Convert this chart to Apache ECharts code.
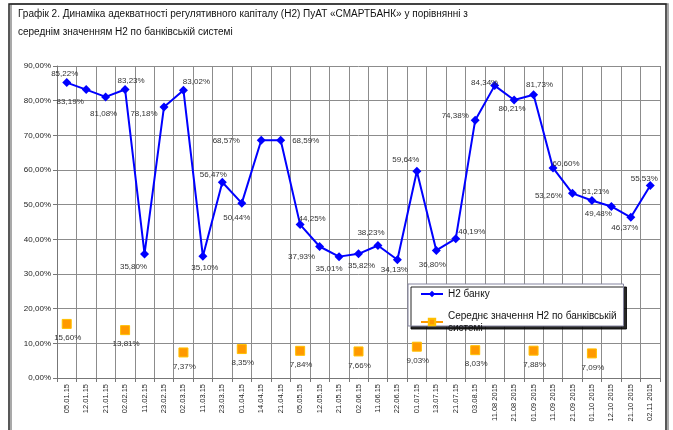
<!DOCTYPE html>
<html>
<head>
<meta charset="utf-8">
<script src="https://cdn.jsdelivr.net/npm/echarts@6/dist/echarts.min.js"></script>
<style>
  html, body { margin: 0; padding: 0; background: #fff; }
  #chart { width: 673px; height: 430px; }
</style>
</head>
<body>
<div id="chart"></div>
<script>
// дати спостережень
const categories = [
  "05.01.15", "12.01.15", "21.01.15", "02.02.15", "11.02.15", "23.02.15",
  "02.03.15", "11.03.15", "23.03.15", "01.04.15", "14.04.15", "21.04.15",
  "05.05.15", "12.05.15", "21.05.15", "02.06.15", "11.06.15", "22.06.15",
  "01.07.15", "13.07.15", "21.07.15", "03.08.15", "11.08 2015", "21.08 2015",
  "01.09 2015", "11.09 2015", "21.09 2015", "01.10 2015", "12.10 2015",
  "21.10 2015", "02.11 2015",
];
// Н2 банку, %
const bankH2 = [
  85.22, 83.19, 81.08, 83.23, 35.80, 78.18, 83.02, 35.10, 56.47, 50.44,
  68.57, 68.59, 44.25, 37.93, 35.01, 35.82, 38.23, 34.13, 59.64, 36.80,
  40.19, 74.38, 84.34, 80.21, 81.73, 60.60, 53.26, 51.21, 49.48, 46.37, 55.53,
];
// середнє по системі (на початок місяця), %
const avgDates = [
  "05.01.15", "02.02.15", "02.03.15", "01.04.15", "05.05.15",
  "02.06.15", "01.07.15", "03.08.15", "01.09 2015", "01.10 2015",
];
const avgH2 = [15.60, 13.81, 7.37, 8.35, 7.84, 7.66, 9.03, 8.03, 7.88, 7.09];

const yMin = 0, yMax = 90, yStep = 10;

const BANK = "Н2 банку";
const AVG = "Середнє значення Н2 по банківській системі";

// зсув підписів відносно точки [dx, dy]
const bankLabelShift = [
  [-2, -9], [-16, 12], [-2, 17], [6, -9], [-11, 13], [-20, 7], [13, -8],
  [2, 11], [-9, -7], [-5, 15], [-35, 1], [25, 1], [12, -6], [-18, 10],
  [-10, 12], [3, 12], [-7, -13], [-3, 10], [-11, -11], [-4, 14], [16, -7],
  [-20, -4], [-10, -3], [-2, 9], [6, -10], [13, -4], [-24, 2], [4, -9],
  [-13, 7], [-6, 11], [-6, -7],
];

const pct = (v) => v.toFixed(2).replace(".", ",") + "%";
const FONT = "'Liberation Sans', Arial, sans-serif";

const bankData = bankH2.map((v, i) => ({
  value: v,
  label: { offset: bankLabelShift[i] },
}));
const avgData = categories.map((c) => {
  const k = avgDates.indexOf(c);
  return k >= 0 ? avgH2[k] : null;
});

const chart = echarts.init(document.getElementById("chart"), null, { renderer: "canvas" });

chart.setOption({
  animation: false,
  textStyle: { fontFamily: FONT },
  title: {
    text: "Графік 2. Динаміка адекватності регулятивного капіталу (Н2) ПуАТ «СМАРТБАНК» у порівнянні з\nсереднім значенням Н2 по банківській системі",
    left: 13,
    top: 0,
    textStyle: {
      fontFamily: FONT,
      fontSize: 10,
      fontWeight: "normal",
      color: "#111",
      lineHeight: 18,
    },
  },
  graphic: [
    {
      type: "rect",
      shape: { x: 9, y: 4, width: 657, height: 440 },
      style: {
        fill: "none",
        stroke: "#222",
        lineWidth: 1.5,
        shadowColor: "rgba(0,0,0,0.45)",
        shadowOffsetX: 2,
        shadowOffsetY: 0,
      },
      silent: true,
      z: 100,
    },
  ],
  legend: {
    orient: "vertical",
    left: 408,
    top: 284,
    data: [
      { name: BANK },
      // друга назва у два рядки: вирівнюємо значок по першому рядку
      { name: AVG, textStyle: { padding: [12, 0, 0, 0] } },
    ],
    formatter: (name) => name.replace(" системі", "\nсистемі"),
    itemWidth: 22,
    itemHeight: 8,
    itemGap: 4,
    padding: [4, 7, -14, 12],
    backgroundColor: "#fff",
    borderColor: "#8585a0",
    borderWidth: 1,
    shadowColor: "rgba(0,0,0,0.85)",
    shadowOffsetX: 3,
    shadowOffsetY: 3,
    textStyle: {
      fontSize: 10,
      color: "#111",
      fontFamily: FONT,
      lineHeight: 12,
    },
  },
  grid: { left: 57, right: 13, top: 66, bottom: 52, containLabel: false },
  xAxis: {
    type: "category",
    data: categories,
    boundaryGap: true,
    axisLine: { lineStyle: { color: "#777", width: 1 } },
    axisTick: { show: true, length: 4, lineStyle: { color: "#777" } },
    axisLabel: {
      rotate: 90,
      interval: 0,
      fontSize: 7.5,
      color: "#222",
      margin: 6,
    },
    splitLine: { show: true, interval: 0, lineStyle: { color: "#8c8c8c", width: 1 } },
  },
  yAxis: {
    type: "value",
    min: yMin,
    max: yMax,
    interval: yStep,
    axisLine: { show: true, lineStyle: { color: "#777" } },
    axisTick: { show: true, length: 4, lineStyle: { color: "#777" } },
    axisLabel: {
      formatter: (v) => pct(v),
      fontSize: 8,
      color: "#222",
      margin: 6,
    },
    splitLine: { lineStyle: { color: "#8c8c8c", width: 1 } },
  },
  series: [
    {
      name: BANK,
      type: "line",
      data: bankData,
      symbol: "diamond",
      symbolSize: 9,
      itemStyle: { color: "#0000ff" },
      lineStyle: { color: "#0000ff", width: 2 },
      label: {
        show: true,
        position: "inside",
        formatter: (p) => pct(p.value),
        fontSize: 8,
        color: "#333",
      },
      z: 3,
    },
    {
      name: AVG,
      type: "line",
      data: avgData,
      connectNulls: false,
      symbol: "rect",
      symbolSize: 9,
      itemStyle: { color: "#ff9900", borderColor: "#ffc000", borderWidth: 1 },
      lineStyle: { color: "#ff9900", width: 2 },
      label: {
        show: true,
        position: "inside",
        offset: [1, 14],
        formatter: (p) => pct(p.value),
        fontSize: 8,
        color: "#333",
      },
      z: 2,
    },
  ],
});
</script>
</body>
</html>
